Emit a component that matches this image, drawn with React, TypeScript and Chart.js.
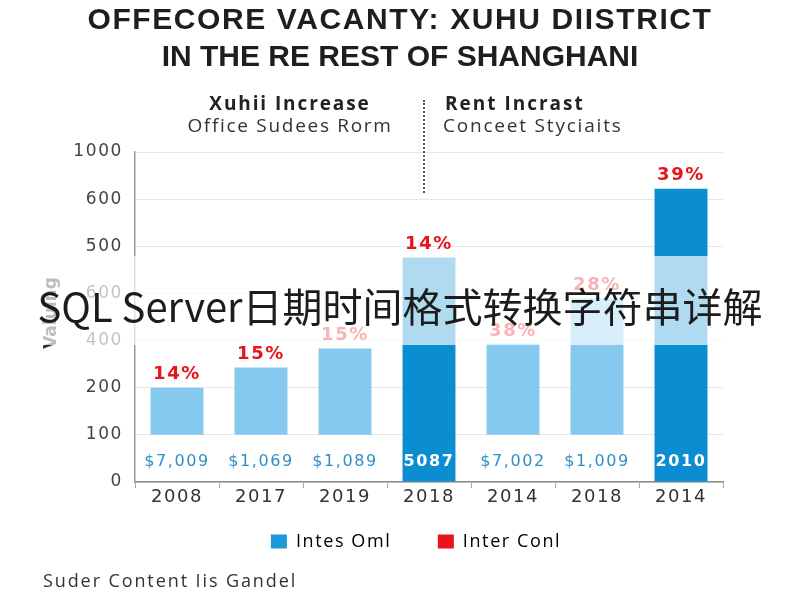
import { useEffect, useRef } from 'react'
import { Chart, registerables } from 'chart.js'

Chart.register(...registerables)

// categories and values (value axis is read in tick steps, see yTickLabels)
const years = ['2008', '2017', '2019', '2018', '2014', '2018', '2014']
const yTickLabels = ['0', '100', '200', '400', '600', '500', '600', '1000']
const barBase = [1, 1, 1, 0, 1, 1, 0]
const barTop = [2.0, 2.43, 2.83, 4.76, 2.93, 3.9, 6.22]
const highlighted = [false, false, false, true, false, false, true]
const priceLabels = ['$7,009', '$1,069', '$1,089', '5087', '$7,002', '$1,009', '2010']
const pctLabels = ['14%', '15%', '15%', '14%', '38%', '28%', '39%']
const seriesNames = ['Intes Oml', 'Inter Conl']
const seriesColors = ['#1b9ad7', '#e8131b']
// extra trailing space after each legend entry (legend gap + centring)
const legendTails = ['\u2003\u200a', '\u2003 ']

// the source uses loosely spaced lettering everywhere
const spacing = {
    id: 'spacing',
    beforeUpdate(chart: any) { chart.ctx.letterSpacing = '1.6px' },
    beforeDraw(chart: any) { chart.ctx.letterSpacing = '1.6px' }
}

const barLabels = {
    id: 'barLabels',
    afterDatasetsDraw(chart: any) {
        const ctx = chart.ctx
        const y = chart.scales.y
        const bars = chart.getDatasetMeta(0).data
        const pts = chart.getDatasetMeta(1).data
        ctx.save()
        ctx.textAlign = 'center'
        ctx.textBaseline = 'middle'
        bars.forEach((bar: any, i: number) => {
            ctx.font = highlighted[i] ? 'bold 16px "DejaVu Sans"' : '16px "DejaVu Sans"'
            ctx.fillStyle = highlighted[i] ? '#ffffff' : '#2f8fc6'
            ctx.fillText(priceLabels[i], bar.x, y.getPixelForValue(0.43))
        })
        ctx.font = 'bold 18px "DejaVu Sans"'
        ctx.fillStyle = seriesColors[1]
        pts.forEach((pt: any, i: number) => {
            ctx.fillText(pctLabels[i], pt.x, pt.y - 13)
        })
        ctx.restore()
    }
}

export default function App() {
    const canvasRef = useRef<HTMLCanvasElement>(null)
    const chartRef = useRef<Chart | null>(null)

    useEffect(() => {
        if (!canvasRef.current) return
        const ctx = canvasRef.current.getContext('2d')
        if (!ctx) return

        chartRef.current = new Chart(ctx, {
            type: 'bar',
            data: {
                labels: years,
                datasets: [
                    {
                        label: seriesNames[0],
                        data: barBase.map((b, i) => [b, barTop[i]]),
                        backgroundColor: highlighted.map((h) => (h ? '#0b8dd1' : '#86c9ee')),
                        borderWidth: 0,
                        categoryPercentage: 1,
                        barPercentage: 0.63
                    },
                    {
                        type: 'line',
                        label: seriesNames[1],
                        data: barTop,
                        showLine: false,
                        pointRadius: 0,
                        borderColor: seriesColors[1],
                        backgroundColor: seriesColors[1]
                    }
                ]
            } as any,
            options: {
                animation: false,
                responsive: false,
                layout: { padding: { top: 152, right: 77, bottom: 39.5, left: 0 } },
                scales: {
                    x: {
                        offset: true,
                        afterFit: (s: any) => { s.height = 27 },
                        grid: {
                            offset: true,
                            drawOnChartArea: false,
                            drawTicks: true,
                            tickLength: 6,
                            color: '#aaaaaa'
                        },
                        border: { color: '#8c8c8c', width: 1.5 },
                        ticks: {
                            font: { family: 'DejaVu Sans', size: 18, lineHeight: 1 },
                            color: '#333333',
                            padding: 0
                        }
                    },
                    y: {
                        min: 0,
                        max: 7,
                        afterFit: (s: any) => { s.width = 135 },
                        ticks: {
                            stepSize: 1,
                            padding: 12,
                            font: { family: 'DejaVu Sans', size: 17 },
                            color: '#444444',
                            callback: (v: any) => yTickLabels[v]
                        },
                        grid: { color: '#e6e6e6', drawTicks: false },
                        border: { color: '#9a9a9a', width: 1.5 }
                    }
                },
                plugins: {
                    legend: {
                        position: 'bottom',
                        fullSize: false,
                        onClick: () => {},
                        labels: {
                            boxWidth: 16,
                            boxHeight: 14,
                            padding: 23.5,
                            color: '#333333',
                            font: { family: 'Open Sans', size: 18 },
                            generateLabels: () =>
                                seriesNames.map((n, i) => ({
                                    text: n + legendTails[i],
                                    fillStyle: seriesColors[i],
                                    strokeStyle: seriesColors[i],
                                    lineWidth: 0,
                                    hidden: false,
                                    datasetIndex: i
                                }))
                        }
                    },
                    tooltip: { enabled: false }
                }
            },
            plugins: [spacing, barLabels]
        })

        return () => {
            if (chartRef.current) {
                chartRef.current.destroy()
            }
        }
    }, [])

    const abs = (s: any) => ({ position: 'absolute', ...s }) as any
    const sub = { fontFamily: 'Open Sans', fontSize: 19, lineHeight: '22px' }

    return (
        <div style={{ position: 'fixed', left: 0, top: 0, width: 800, height: 600, background: '#fff', overflow: 'hidden' }}>
            <canvas ref={canvasRef} width={800} height={600} style={{ position: 'absolute', left: 0, top: 0 }} />
            <div style={abs({ left: 0, width: 800, top: 0, textAlign: 'center', font: 'bold 30px "Liberation Sans"', color: '#1e1e1e', lineHeight: '37px' })}>
                <div style={{ letterSpacing: 1.6 }}>OFFECORE VACANTY: XUHU DIISTRICT</div>
                <div>IN THE RE REST OF SHANGHANI</div>
            </div>
            <div style={abs({ left: 180, width: 220, top: 92, textAlign: 'center', color: '#222', ...sub })}>
                <div style={{ fontWeight: 700, letterSpacing: 1.9 }}>Xuhii Increase</div>
                <div style={{ letterSpacing: 1.7, color: '#333' }}>Office Sudees Rorm</div>
            </div>
            <div style={abs({ left: 423, top: 100, height: 93, borderLeft: '2px dotted #555' })} />
            <div style={abs({ left: 445, top: 92, color: '#222', ...sub })}>
                <div style={{ fontWeight: 700, letterSpacing: 2 }}>Rent Incrast</div>
                <div style={{ letterSpacing: 1.8, color: '#333', marginLeft: -2 }}>Conceet Styciaits</div>
            </div>
            <div style={abs({ left: 50, top: 313, transform: 'translate(-50%, -50%) rotate(-90deg)', font: 'bold 17px "DejaVu Sans"', color: '#333', whiteSpace: 'nowrap' })}>
                Valuing
            </div>
            <div style={abs({ left: 43, top: 568, font: '18px "Open Sans"', lineHeight: '24px', letterSpacing: 1.9, color: '#333' })}>
                Suder Content Iis Gandel
            </div>
            <div style={abs({ left: 0, top: 256, width: 800, height: 89, background: 'rgba(255,255,255,0.68)' })} />
            <div style={abs({ left: 0, width: 800, top: 280, textAlign: 'center', font: '40px "Noto Sans CJK SC"', color: '#1c1c1c', lineHeight: '50px', whiteSpace: 'nowrap' })}>
                SQL Server日期时间格式转换字符串详解
            </div>
        </div>
    )
}
